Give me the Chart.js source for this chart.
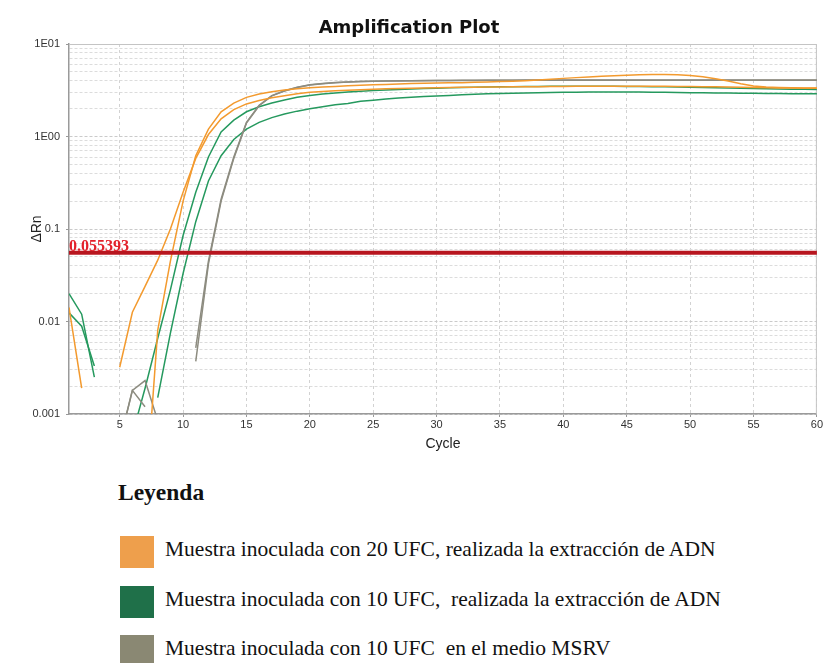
<!DOCTYPE html>
<html>
<head>
<meta charset="utf-8">
<title>Amplification Plot</title>
<script src="https://cdn.jsdelivr.net/npm/chart.js@4.4.0/dist/chart.umd.min.js"></script>
<style>
  body { margin: 0; background: #fff; width: 824px; height: 663px; overflow: hidden; position: relative; }
  #chart-box { position: absolute; left: 0; top: 0; width: 824px; height: 462px; }
  .legend-title { position: absolute; left: 118px; top: 481px; font: bold 23.5px/23.5px "Liberation Serif", "Times New Roman", serif; color: #111; }
  .swatch { position: absolute; left: 120px; width: 34px; height: 32px; }
  .legend-text { position: absolute; left: 165px; font: 21.5px/21.5px "Liberation Serif", "Times New Roman", serif; color: #111; white-space: pre; }
</style>
</head>
<body>
<div id="chart-box"><canvas id="amp-chart" width="824" height="462"></canvas></div>
<div class="legend-title">Leyenda</div>
<div id="legend"></div>
<script>
// Data

const cycles = [
    1, 2, 3, 4, 5, 6, 7, 8, 9, 10,
    11, 12, 13, 14, 15, 16, 17, 18, 19, 20,
    21, 22, 23, 24, 25, 26, 27, 28, 29, 30,
    31, 32, 33, 34, 35, 36, 37, 38, 39, 40,
    41, 42, 43, 44, 45, 46, 47, 48, 49, 50,
    51, 52, 53, 54, 55, 56, 57, 58, 59, 60
];

// 20 UFC, extraccion de ADN (two wells)
const orangeEarly = [
    0.0142, 0.0019, null, null, 0.0032, 0.0126, 0.024, 0.046, 0.1, 0.25,
    0.58, 1.05, 1.55, 1.95, 2.25, 2.45, 2.62, 2.76, 2.9, 3.0,
    3.07, 3.12, 3.17, 3.21, 3.25, 3.28, 3.31, 3.33, 3.35, 3.37,
    3.38, 3.4, 3.41, 3.42, 3.43, 3.44, 3.45, 3.46, 3.47, 3.48,
    3.49, 3.5, 3.5, 3.5, 3.5, 3.5, 3.5, 3.49, 3.48, 3.47,
    3.46, 3.45, 3.43, 3.41, 3.39, 3.37, 3.35, 3.34, 3.33, 3.32
];
const orangeLate = [
    null, null, null, null, null, null, 0.0001, 0.008, 0.045, 0.2,
    0.62, 1.2, 1.85, 2.3, 2.65, 2.88, 3.05, 3.18, 3.28, 3.36,
    3.42, 3.48, 3.53, 3.58, 3.62, 3.66, 3.7, 3.73, 3.76, 3.78,
    3.8, 3.82, 3.85, 3.88, 3.92, 3.96, 4.01, 4.08, 4.16, 4.25,
    4.33, 4.4, 4.47, 4.54, 4.6, 4.65, 4.68, 4.68, 4.64, 4.56,
    4.42, 4.22, 3.98, 3.72, 3.52, 3.42, 3.38, 3.36, 3.35, 3.34
];

// 10 UFC, extraccion de ADN (two wells)
const greenEarly = [
    0.020, 0.012, 0.0025, null, null, 0.0006, 0.0019, 0.0066, 0.022, 0.085,
    0.25, 0.6, 1.12, 1.5, 1.85, 2.1, 2.3, 2.48, 2.65, 2.78,
    2.88, 2.96, 3.03, 3.09, 3.14, 3.19, 3.23, 3.27, 3.3, 3.33,
    3.36, 3.38, 3.4, 3.42, 3.44, 3.46, 3.47, 3.48, 3.49, 3.5,
    3.5, 3.5, 3.5, 3.49, 3.48, 3.47, 3.46, 3.44, 3.42, 3.4,
    3.38, 3.36, 3.34, 3.32, 3.3, 3.28, 3.26, 3.25, 3.24, 3.22
];
const greenLate = [
    0.0124, 0.0089, 0.0033, null, null, null, null, 0.0015, 0.0075, 0.033,
    0.12, 0.33, 0.62, 0.93, 1.2, 1.42, 1.6, 1.75, 1.88, 2.0,
    2.1, 2.2, 2.28, 2.4, 2.47, 2.54, 2.6, 2.65, 2.7, 2.74,
    2.78, 2.82, 2.86, 2.89, 2.92, 2.94, 2.96, 2.98, 2.99, 3.0,
    3.01, 3.02, 3.02, 3.02, 3.02, 3.02, 3.01, 3.0, 2.99, 2.98,
    2.97, 2.96, 2.95, 2.94, 2.93, 2.92, 2.91, 2.9, 2.9, 2.9
];

// 10 UFC en medio MSRV (two wells)
const grayA = [
    null, null, null, null, 0.0005, 0.0018, 0.0012, null, null, null,
    0.0037, 0.042, 0.2, 0.58, 1.4, 2.15, 2.75, 3.1, 3.38, 3.6,
    3.72, 3.82, 3.88, 3.92, 3.95, 3.97, 3.99, 4.0, 4.01, 4.02,
    4.03, 4.04, 4.04, 4.05, 4.05, 4.05, 4.06, 4.06, 4.06, 4.06,
    4.06, 4.06, 4.06, 4.06, 4.06, 4.06, 4.06, 4.06, 4.06, 4.06,
    4.06, 4.06, 4.06, 4.06, 4.06, 4.06, 4.06, 4.06, 4.06, 4.06
];
const grayB = [
    null, null, null, null, 0.0005, 0.0018, 0.0023, 0.00085, null, null,
    0.0052, 0.045, 0.21, 0.6, 1.42, 2.17, 2.77, 3.12, 3.4, 3.62,
    3.74, 3.83, 3.89, 3.93, 3.96, 3.98, 4.0, 4.01, 4.02, 4.03,
    4.04, 4.05, 4.05, 4.06, 4.06, 4.06, 4.07, 4.07, 4.07, 4.07,
    4.07, 4.07, 4.07, 4.07, 4.07, 4.07, 4.07, 4.07, 4.07, 4.07,
    4.07, 4.07, 4.07, 4.07, 4.07, 4.07, 4.07, 4.07, 4.07, 4.07
];

const thresholdValue = 0.055393;

const xTickValues = [5, 10, 15, 20, 25, 30, 35, 40, 45, 50, 55, 60];
const yTickValues = [10, 1, 0.1, 0.01, 0.001];
const yTickLabels = ['1E01', '1E00', '0.1', '0.01', '0.001'];

const legendLabels = [
    'Muestra inoculada con 20 UFC, realizada la extracción de ADN',
    'Muestra inoculada con 10 UFC,  realizada la extracción de ADN',
    'Muestra inoculada con 10 UFC  en el medio MSRV'
];

// Colours

const orangeLine = '#F39A2E';
const greenLine = '#25995E';
const grayLine = '#8D8C80';
const thresholdColor = '#B8161F';
const swatchColors = ['#EE9F4C', '#1F7049', '#8A8873'];

// Legend (HTML, below the chart)

const legendBox = document.getElementById('legend');
const swatchTops = [536, 586, 635];
const textTops = [539, 589, 638];

legendBox.innerHTML = legendLabels.map((label, i) =>
    `<div class="swatch" style="top:${swatchTops[i]}px;background:${swatchColors[i]}"></div>` +
    `<div class="legend-text" style="top:${textTops[i]}px">${label}</div>`
).join('');

// Helpers

function toPoints(values) {
    return cycles.map((c, i) => ({ x: c, y: values[i] }));
}

function isDecade(value) {
    const l = Math.log10(value);
    return Math.abs(l - Math.round(l)) < 1e-6;
}

function yLabel(value) {
    const i = yTickValues.findIndex(v => Math.abs(Math.log10(v) - Math.log10(value)) < 1e-6);
    return i === -1 ? '' : yTickLabels[i];
}

function lineSet(values, color) {
    return {
        data: toPoints(values),
        borderColor: color,
        borderWidth: 1.5,
        pointRadius: 0,
        tension: 0,
        spanGaps: false
    };
}

// Frame + threshold label

const framePlugin = {
    id: 'frame',
    beforeDatasetsDraw(chart) {
        const { ctx, chartArea } = chart;
        ctx.save();
        ctx.strokeStyle = '#c4c4c4';
        ctx.lineWidth = 1;
        ctx.beginPath();
        ctx.moveTo(chartArea.left, chartArea.top + 0.5);
        ctx.lineTo(chartArea.right - 0.5, chartArea.top + 0.5);
        ctx.lineTo(chartArea.right - 0.5, chartArea.bottom);
        ctx.stroke();
        ctx.restore();
    },
    afterDatasetsDraw(chart) {
        const { ctx, chartArea } = chart;
        const y = chart.scales.y.getPixelForValue(thresholdValue);
        ctx.save();
        ctx.font = 'bold 16px "Liberation Serif", "Times New Roman", serif';
        ctx.fillStyle = '#E3202A';
        ctx.textBaseline = 'alphabetic';
        ctx.fillText(String(thresholdValue), chartArea.left, y - 2);
        ctx.restore();
    }
};

// Amplification Chart

Chart.defaults.font.family = '"Liberation Sans", Arial, sans-serif';

const ampCanvas = document.getElementById('amp-chart');

const ampData = {
    datasets: [
        {
            data: [
                { x: cycles[0], y: thresholdValue },
                { x: cycles[cycles.length - 1], y: thresholdValue }
            ],
            borderColor: thresholdColor,
            borderWidth: 4,
            pointRadius: 0
        },
        lineSet(orangeLate, orangeLine),
        lineSet(orangeEarly, orangeLine),
        lineSet(grayA, grayLine),
        lineSet(grayB, grayLine),
        lineSet(greenEarly, greenLine),
        lineSet(greenLate, greenLine)
    ]
};

const ampOptions = {
    responsive: false,
    animation: false,
    layout: {
        padding: { left: 0, right: 6, top: 0, bottom: 0 }
    },
    scales: {
        x: {
            type: 'linear',
            min: 1,
            max: 60,
            afterBuildTicks: scale => {
                scale.ticks = xTickValues.map(v => ({ value: v }));
            },
            afterFit: scale => {
                scale.height = 48;
            },
            ticks: {
                autoSkip: false,
                maxRotation: 0,
                padding: 1,
                color: '#333',
                font: { size: 11 }
            },
            grid: {
                color: '#d2d2d2',
                tickLength: 3,
                tickColor: '#999'
            },
            border: {
                color: '#9a9a9a',
                width: 1.5,
                dash: [3, 3]
            },
            title: {
                display: true,
                text: 'Cycle',
                color: '#222',
                font: { size: 14 },
                padding: { top: 0, bottom: 9 }
            }
        },
        y: {
            type: 'logarithmic',
            min: 0.001,
            max: 10,
            afterBuildTicks: scale => {
                scale.ticks = scale.ticks.filter(t => {
                    const m = t.value / Math.pow(10, Math.floor(Math.log10(t.value) + 1e-9));
                    return Math.abs(m - Math.round(m)) < 1e-6;
                });
            },
            afterFit: scale => {
                scale.width = 69;
            },
            ticks: {
                autoSkip: false,
                padding: 6,
                color: '#333',
                font: { size: 11 },
                callback: value => yLabel(value)
            },
            grid: {
                color: ctx => isDecade(ctx.tick.value) ? '#cacaca' : '#dcdcdc',
                tickLength: 3,
                tickColor: ctx => isDecade(ctx.tick.value) ? '#999' : 'rgba(0,0,0,0)'
            },
            border: {
                color: '#9a9a9a',
                width: 1.5,
                dash: [3, 2]
            },
            title: {
                display: true,
                text: 'ΔRn',
                color: '#222',
                font: { size: 14 },
                padding: { top: 29, bottom: 0 }
            }
        }
    },
    plugins: {
        legend: {
            display: false
        },
        tooltip: {
            enabled: false
        },
        title: {
            display: true,
            text: 'Amplification Plot',
            color: '#111',
            font: { family: '"DejaVu Sans", Verdana, sans-serif', size: 18, weight: 'bold' },
            padding: { top: 18, bottom: 4.4 }
        }
    }
};

let ampChart = new Chart(ampCanvas, {
    type: 'line',
    data: ampData,
    options: ampOptions,
    plugins: [framePlugin]
});
</script>
</body>
</html>
